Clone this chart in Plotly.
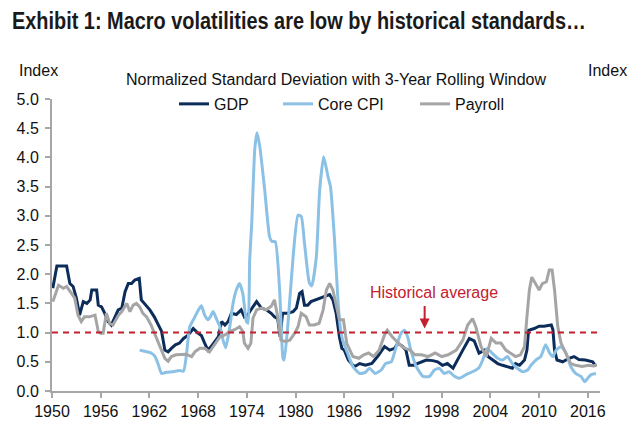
import plotly.graph_objects as go

# ---------------- data ----------------
gdp_year = [1950.1, 1950.6, 1951.8, 1952.2, 1952.6, 1953.0, 1953.4, 1953.85, 1954.3, 1954.7, 1954.9, 1955.5,
            1955.7, 1956.1, 1956.5, 1956.9, 1957.3, 1957.7, 1958.16, 1958.6, 1959.0, 1959.4, 1959.8, 1960.2,
            1960.75, 1961.0, 1961.6, 1962.05, 1962.6, 1963.0, 1963.5, 1963.9, 1964.3, 1964.7, 1965.2, 1965.7,
            1966.2, 1966.8, 1967.4, 1967.9, 1968.4, 1968.8, 1969.2, 1969.6, 1970.05, 1970.5, 1970.9, 1971.3,
            1971.7, 1972.1, 1972.7, 1973.3, 1973.7, 1974.1, 1974.5, 1975.2, 1975.8, 1976.4, 1977.0, 1977.4,
            1977.8, 1978.1, 1978.4, 1979.0, 1979.7, 1980.1, 1980.5, 1980.8, 1981.1, 1981.5, 1981.9, 1982.5,
            1983.2, 1983.8, 1984.2, 1984.6, 1985.0, 1985.4, 1985.7, 1986.0, 1986.5, 1987.0, 1987.3, 1987.9,
            1988.6, 1989.4, 1990.1, 1990.96, 1991.6, 1992.2, 1992.6, 1993.2, 1993.6, 1994.0, 1994.6, 1995.0,
            1995.5, 1996.1, 1996.9, 1997.5, 1998.1, 1998.7, 1999.4, 1999.9, 2000.6, 2001.4, 2002.0, 2002.6,
            2003.3, 2003.7, 2004.3, 2004.9, 2005.5, 2006.1, 2006.7, 2007.1, 2007.6, 2008.2, 2008.5, 2008.7,
            2009.4, 2010.0, 2010.6, 2011.5, 2011.7, 2011.9, 2012.2, 2012.9, 2013.7, 2014.3, 2014.9, 2015.7,
            2016.6, 2017.0]
gdp_val = [1.76, 2.14, 2.14, 1.84, 1.79, 1.59, 1.30, 1.53, 1.50, 1.56, 1.73, 1.73,
           1.47, 1.44, 1.33, 1.19, 1.13, 1.25, 1.39, 1.42, 1.70, 1.84, 1.84, 1.90,
           1.93, 1.56, 1.47, 1.39, 1.27, 1.16, 1.02, 0.70, 0.67, 0.73, 0.79, 0.82,
           0.90, 0.96, 1.07, 1.00, 0.95, 0.82, 0.70, 0.76, 0.85, 0.93, 1.19, 1.13,
           1.19, 1.33, 1.31, 1.39, 1.27, 1.30, 1.39, 1.53, 1.42, 1.39, 1.33, 1.27,
           1.24, 0.93, 1.33, 1.33, 1.36, 1.42, 1.67, 1.70, 1.47, 1.47, 1.53, 1.56,
           1.59, 1.62, 1.65, 1.56, 1.33, 0.93, 0.73, 0.70, 0.53, 0.45, 0.42, 0.47,
           0.44, 0.47, 0.59, 0.76, 0.70, 0.73, 0.82, 0.76, 0.70, 0.44, 0.44, 0.47,
           0.50, 0.53, 0.52, 0.50, 0.44, 0.47, 0.39, 0.53, 0.70, 0.90, 0.86, 0.65,
           0.70, 0.59, 0.53, 0.47, 0.44, 0.42, 0.39, 0.47, 0.44, 0.53, 0.70, 1.04,
           1.07, 1.11, 1.11, 1.13, 1.05, 0.70, 0.53, 0.50, 0.56, 0.59, 0.54, 0.53,
           0.50, 0.42]

cpi_year = [1960.8, 1961.4, 1962.2, 1962.7, 1963.1, 1963.5, 1964.1, 1964.9, 1965.7, 1966.2, 1966.56, 1966.97,
            1967.6, 1968.0, 1968.4, 1968.8, 1969.2, 1969.5, 1969.85, 1970.3, 1970.7, 1971.07, 1971.4, 1971.9,
            1972.3, 1972.7, 1973.1, 1973.5, 1973.95, 1974.15, 1974.35, 1974.6, 1974.97, 1975.25, 1975.6, 1976.2,
            1976.8, 1977.1, 1977.5, 1978.04, 1978.45, 1978.6, 1979.07, 1979.7, 1980.3, 1980.7, 1981.1, 1981.7,
            1982.0, 1982.56, 1982.97, 1983.46, 1984.0, 1984.3, 1984.8, 1985.2, 1985.5, 1985.8, 1986.4, 1987.06,
            1987.9, 1988.6, 1989.1, 1989.8, 1990.55, 1991.1, 1991.8, 1992.4, 1993.0, 1993.4, 1993.8, 1994.2,
            1994.86, 1995.7, 1996.5, 1997.1, 1997.7, 1998.3, 1998.9, 1999.6, 2000.2, 2001.0, 2001.8, 2002.6,
            2003.05, 2003.6, 2004.2, 2004.9, 2005.5, 2006.1, 2006.7, 2007.3, 2008.0, 2008.6, 2009.0, 2009.6,
            2010.2, 2010.8, 2011.3, 2011.7, 2012.1, 2012.7, 2013.3, 2013.9, 2014.5, 2015.15, 2015.6, 2016.0,
            2016.4, 2017.0]
cpi_val = [0.70, 0.68, 0.65, 0.59, 0.45, 0.30, 0.32, 0.33, 0.35, 0.34, 0.62, 1.10,
           1.27, 1.38, 1.46, 1.30, 1.22, 1.27, 1.36, 1.22, 1.10, 0.87, 0.74, 1.10,
           1.50, 1.73, 1.84, 1.67, 1.19, 1.16, 2.24, 2.87, 4.13, 4.42, 4.18, 3.44,
           2.64, 2.56, 2.56, 1.73, 0.56, 0.53, 1.16, 2.30, 3.01, 2.99, 2.53, 1.85,
           1.80, 2.30, 3.44, 4.01, 3.67, 3.50, 2.59, 1.61, 1.10, 0.87, 0.65, 0.42,
           0.30, 0.32, 0.39, 0.30, 0.36, 0.47, 0.50, 0.76, 0.99, 1.04, 0.93, 0.70,
           0.42, 0.25, 0.25, 0.36, 0.39, 0.30, 0.33, 0.25, 0.22, 0.28, 0.33, 0.40,
           0.53, 0.73, 0.65, 0.56, 0.53, 0.59, 0.47, 0.39, 0.33, 0.36, 0.44, 0.53,
           0.59, 0.79, 0.65, 0.59, 0.70, 0.76, 0.65, 0.42, 0.30, 0.25, 0.16, 0.22,
           0.28, 0.30]

pay_year = [1950.1, 1950.8, 1951.4, 1951.8, 1952.4, 1952.8, 1953.2, 1953.6, 1954.0, 1954.6, 1955.3, 1955.7,
            1956.0, 1956.3, 1956.7, 1957.1, 1957.5, 1958.2, 1958.6, 1959.0, 1959.2, 1959.6, 1960.0, 1960.4,
            1960.8, 1961.2, 1961.65, 1962.2, 1962.7, 1963.1, 1963.5, 1963.9, 1964.3, 1964.7, 1965.3, 1965.9,
            1966.5, 1967.2, 1967.6, 1968.2, 1968.8, 1969.4, 1970.0, 1970.7, 1971.3, 1971.9, 1972.5, 1973.1,
            1973.5, 1973.7, 1974.15, 1974.5, 1974.76, 1975.2, 1975.8, 1976.4, 1977.0, 1977.4, 1977.8, 1978.2,
            1978.7, 1979.3, 1979.9, 1980.3, 1980.7, 1981.3, 1981.7, 1982.3, 1982.9, 1983.4, 1983.8, 1984.2,
            1984.6, 1985.0, 1985.4, 1985.9, 1986.3, 1987.06, 1987.8, 1988.4, 1989.0, 1989.6, 1990.3, 1990.96,
            1991.3, 1991.9, 1992.5, 1993.1, 1993.5, 1994.1, 1994.7, 1995.5, 1996.3, 1997.2, 1998.0, 1998.8,
            1999.8, 2000.6, 2001.2, 2001.8, 2002.2, 2002.85, 2003.5, 2004.1, 2004.7, 2005.3, 2005.9, 2006.5,
            2007.1, 2007.7, 2008.2, 2008.5, 2008.8, 2009.1, 2009.6, 2010.0, 2010.4, 2010.9, 2011.25, 2011.6,
            2011.9, 2012.3, 2012.7, 2013.3, 2013.9, 2014.5, 2015.3, 2016.1, 2016.7, 2017.1]
pay_val = [1.53, 1.81, 1.76, 1.79, 1.67, 1.59, 1.30, 1.19, 1.27, 1.27, 1.30, 1.02,
           0.99, 0.99, 1.33, 1.16, 1.13, 1.30, 1.36, 1.44, 1.50, 1.36, 1.47, 1.50,
           1.44, 1.33, 1.27, 1.13, 0.96, 0.82, 0.70, 0.56, 0.51, 0.59, 0.62, 0.62,
           0.63, 0.59, 0.67, 0.73, 0.73, 0.67, 0.79, 0.93, 0.96, 1.02, 1.05, 1.10,
           1.02, 0.82, 0.73, 0.82, 1.25, 1.39, 1.42, 1.39, 1.45, 1.56, 1.27, 0.87,
           0.85, 0.87, 0.99, 1.10, 1.33, 1.27, 1.13, 1.13, 1.16, 1.39, 1.73, 1.84,
           1.73, 1.50, 1.22, 1.22, 0.82, 0.59, 0.56, 0.62, 0.65, 0.59, 0.70, 0.96,
           1.04, 0.93, 0.84, 0.76, 0.73, 0.70, 0.62, 0.62, 0.59, 0.65, 0.59, 0.62,
           0.70, 0.87, 1.13, 1.24, 1.10, 0.76, 0.59, 0.90, 0.82, 0.82, 0.70, 0.65,
           0.59, 0.62, 0.76, 1.27, 1.73, 1.95, 1.84, 1.73, 1.84, 1.87, 2.07, 2.07,
           1.73, 1.10, 0.82, 0.65, 0.47, 0.44, 0.42, 0.44, 0.43, 0.45]

x_ticks = [1950, 1956, 1962, 1968, 1974, 1980, 1986, 1992, 1998, 2004, 2010, 2016]
y_ticks = [0.0, 0.5, 1.0, 1.5, 2.0, 2.5, 3.0, 3.5, 4.0, 4.5, 5.0]
hist_avg = 1.0

# ---------------- figure ----------------
FONT = "Arial, 'Liberation Sans', sans-serif"
AX = "#a6a6a6"
RED = "#c3202f"
TXT = "#111111"

fig = go.Figure()
fig.add_trace(go.Scatter(x=gdp_year, y=gdp_val, name="GDP", mode="lines",
                         line=dict(color="#0c2c5a", width=3), legend="legend"))
fig.add_trace(go.Scatter(x=cpi_year, y=cpi_val, name="Core CPI", mode="lines",
                         line=dict(color="#8cc1e6", width=3, shape="spline", smoothing=0.5),
                         legend="legend2"))
fig.add_trace(go.Scatter(x=pay_year, y=pay_val, name="Payroll", mode="lines",
                         line=dict(color="#a5a5a5", width=3), legend="legend3"))

axis_common = dict(range=[0, 5], tickvals=y_ticks, ticktext=[f"{v:.1f}" for v in y_ticks],
                   showgrid=False, zeroline=False, showline=True, linecolor=AX, linewidth=2,
                   ticks="outside", ticklen=5, tickcolor=AX, tickwidth=1.5,
                   tickfont=dict(family=FONT, size=16, color=TXT))

leg_common = dict(orientation="h", yanchor="middle", y=0.983, xanchor="left",
                  font=dict(family=FONT, size=16, color=TXT), bgcolor="rgba(0,0,0,0)",
                  borderwidth=0)

fig.update_layout(
    width=639, height=440, autosize=False,
    paper_bgcolor="white", plot_bgcolor="white",
    margin=dict(l=52, r=39, t=99, b=49),
    title=dict(text="Exhibit 1: Macro volatilities are low by historical standards…",
               x=12 / 639, xanchor="left", xref="container", y=1 - 21 / 440, yanchor="middle",
               yref="container",
               font=dict(family=FONT, size=23, color="#1a1a1a", weight=700)),
    xaxis=dict(range=[1950, 2017.5], tickvals=x_ticks, showgrid=False, zeroline=False,
               showline=True, linecolor=AX, linewidth=2, ticks="outside", ticklen=5,
               tickcolor=AX, tickwidth=1.5, tickfont=dict(family=FONT, size=16, color=TXT)),
    yaxis=dict(**axis_common, ticklabelstandoff=3),
    yaxis2=dict(**axis_common, overlaying="y", side="right", anchor="x"),
    showlegend=True,
    legend=dict(**leg_common, x=0.2226),
    legend2=dict(**leg_common, x=0.4124),
    legend3=dict(**leg_common, x=0.6625),
)

fig.add_shape(type="line", xref="paper", x0=0, x1=1, yref="y", y0=hist_avg, y1=hist_avg,
              line=dict(color=RED, width=2, dash="6px,5px"))

fig.add_annotation(text="Historical average", xref="x", x=1997.0, yref="y", y=1.68,
                   showarrow=False, font=dict(family=FONT, size=16, color=RED))
fig.add_annotation(text="", xref="x", x=1995.9, yref="y", y=1.07, showarrow=True,
                   ax=0, ay=-24, arrowhead=2, arrowsize=1, arrowwidth=2, arrowcolor=RED)

fig.add_annotation(text="Index", xref="paper", x=(38 - 52) / 548, xanchor="center", yref="paper", y=1.0,
                   yanchor="middle", yshift=29, showarrow=False, font=dict(family=FONT, size=16, color=TXT))
fig.add_annotation(text="Index", xref="paper", x=(607 - 52) / 548, xanchor="center", yref="paper", y=1.0,
                   yanchor="middle", yshift=29, showarrow=False, font=dict(family=FONT, size=16, color=TXT))
fig.add_annotation(text="Normalized Standard Deviation with 3-Year Rolling Window", xref="paper",
                   x=(336 - 52) / 548, xanchor="center", yref="paper", y=1.0, yanchor="middle",
                   yshift=20, showarrow=False, font=dict(family=FONT, size=16, color=TXT))

# condensed title face (the reference uses a bold condensed typeface)
post = """
var fit = function(){
  document.querySelectorAll('.gtitle').forEach(function(t){
    t.setAttribute('textLength', '574');
    t.setAttribute('lengthAdjust', 'spacingAndGlyphs');
  });
};
fit();
var gd = document.getElementById('{plot_id}');
if (gd && gd.on) { gd.on('plotly_afterplot', fit); }
"""

fig.write_html("out.html", post_script=post)
